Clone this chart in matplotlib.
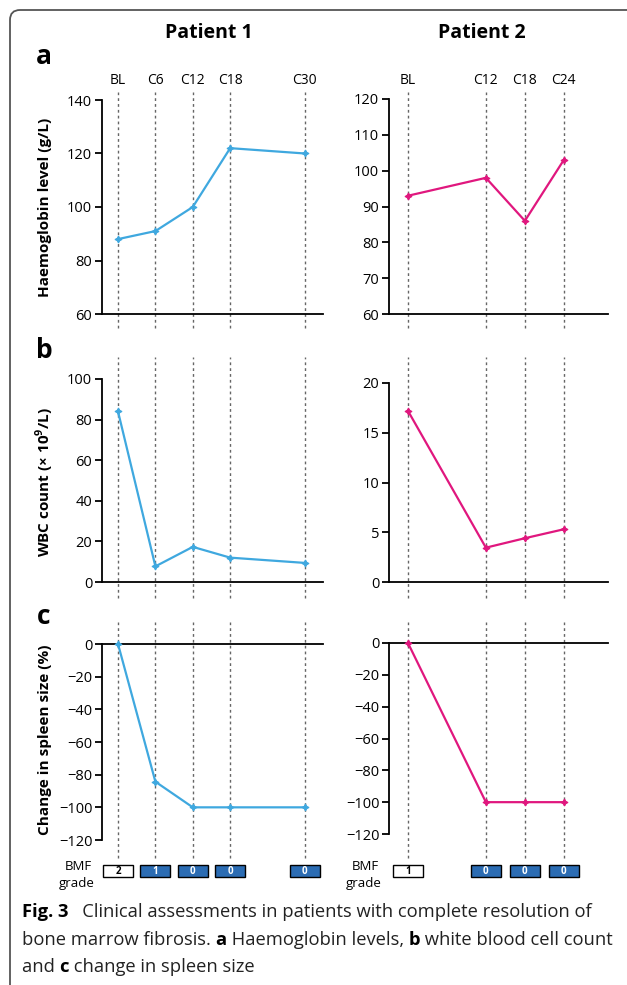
import matplotlib
matplotlib.use("Agg")
import matplotlib.pyplot as plt
from matplotlib.patches import FancyBboxPatch, Rectangle
from matplotlib.transforms import IdentityTransform, blended_transform_factory

plt.rcParams['font.family'] = ['Open Sans', 'DejaVu Sans']

# ---------------- data ----------------
p1_labels = ["BL", "C6", "C12", "C18", "C30"]
p1_months = [0, 6, 12, 18, 30]
p1_hb = [88, 91, 100, 122, 120]
p1_wbc = [84.0, 7.7, 17.3, 12.0, 9.4]
p1_spleen = [0, -84.3, -100, -100, -100]
p1_bmf = [2, 1, 0, 0, 0]

p2_labels = ["BL", "C12", "C18", "C24"]
p2_months = [0, 12, 18, 24]
p2_hb = [93, 98, 86, 103]
p2_wbc = [17.2, 3.45, 4.4, 5.3]
p2_spleen = [0, -100, -100, -100]
p2_bmf = [1, 0, 0, 0]

W, H = 627, 985
fig = plt.figure(figsize=(W / 100, H / 100), dpi=100)

BLUE = "#3fa8df"
PINK = "#e0177e"
BOXBLUE = "#2b6cb3"
DASH = "#666666"


def rect(left, top, right, bottom):
    return [left / W, 1 - bottom / H, (right - left) / W, (bottom - top) / H]


def ftxt(x, y, s, **kw):
    return fig.text(x / W, 1 - y / H, s, **kw)


# rounded frame
frame = FancyBboxPatch((10, -20), 700, H - 10 + 20, boxstyle="round,pad=0,rounding_size=10",
                       transform=IdentityTransform(), fill=False, edgecolor="#555555", linewidth=1.3)
fig.patches.append(frame)

patients = [
    dict(months=p1_months, labels=p1_labels, hb=p1_hb, wbc=p1_wbc, spleen=p1_spleen, bmf=p1_bmf,
         color=BLUE, xl=-2.57, xr=32.9, left=102, right=323,
         rows=[(100, 314), (379, 582), (644, 840)],
         ylims=[(60, 140), (0, 100), (-120, 0)],
         yticks=[range(60, 141, 20), range(0, 101, 20), range(-120, 1, 20)],
         bmf_x=78, title="Patient 1", tx=209),
    dict(months=p2_months, labels=p2_labels, hb=p2_hb, wbc=p2_wbc, spleen=p2_spleen, bmf=p2_bmf,
         color=PINK, xl=-2.92, xr=30.8, left=389, right=608,
         rows=[(99, 314), (383, 582), (643, 834)],
         ylims=[(60, 120), (0, 20), (-120, 0)],
         yticks=[range(60, 121, 10), range(0, 21, 5), range(-120, 1, 20)],
         bmf_x=365, title="Patient 2", tx=482),
]

dash_spans = [(92, 328), (357, 598), (622, 858)]
ylabels = ["Haemoglobin level (g/L)", "WBC count (× 10$^{\\mathregular{9}}$/L)", "Change in spleen size (%)"]
ylabel_y = [207, 482, 740]
panel_letters = [("a", 57), ("b", 350), ("c", 617)]

for pi, p in enumerate(patients):
    series = [p["hb"], p["wbc"], p["spleen"]]
    for r in range(3):
        top, bot = p["rows"][r]
        ax = fig.add_axes(rect(p["left"], top, p["right"], bot))
        ax.set_facecolor("none")
        ax.set_xlim(p["xl"], p["xr"])
        ax.set_ylim(*p["ylims"][r])
        ax.set_yticks(list(p["yticks"][r]))
        ax.set_xticks([])
        ax.spines["right"].set_visible(False)
        if r == 2:
            ax.spines["bottom"].set_visible(False)
        else:
            ax.spines["top"].set_visible(False)
        for s in ["left", "top", "bottom"]:
            ax.spines[s].set_linewidth(1.3)
            ax.spines[s].set_color("black")
        ax.tick_params(axis="y", length=5, width=1.3, labelsize=10.5, pad=2, colors="black")
        # dashed verticals, extended beyond the axes
        d0, d1 = dash_spans[r]
        y_lo = -(d1 - bot) / (bot - top)
        y_hi = (bot - d0) / (bot - top)
        bt = blended_transform_factory(ax.transData, ax.transAxes)
        for m in p["months"]:
            ax.plot([m, m], [y_lo, y_hi], transform=bt,
                    color=DASH, lw=1.0, ls=(0, (2, 2.2)), clip_on=False, zorder=1)
        ax.plot(p["months"], series[r], color=p["color"], lw=1.6, marker=(4, 1, 0),
                markersize=5, markeredgewidth=0.8, zorder=3, clip_on=False)
        if r == 0:
            for m, lab in zip(p["months"], p["labels"]):
                ax.text(m, 1 + (top - 80) / (bot - top), lab, transform=bt, ha="center",
                        va="center", fontsize=10)
        if r == 2:
            # BMF grade boxes
            for i, (m, g) in enumerate(zip(p["months"], p["bmf"])):
                xc = ax.transData.transform((m, 0))[0]
                fc = "white" if i == 0 else BOXBLUE
                rct = Rectangle((xc - 15, H - 877), 30, 12, transform=IdentityTransform(),
                                facecolor=fc, edgecolor="black", lw=1.0, clip_on=False)
                fig.patches.append(rct)
                fig.text(xc / W, 1 - 871.5 / H, str(g), ha="center", va="center", fontsize=7,
                         fontweight="bold", color="black" if fc == "white" else "white")
            ftxt(p["bmf_x"], 866, "BMF", ha="center", va="center", fontsize=9.5)
            ftxt(p["bmf_x"] - 1, 884, "grade", ha="center", va="center", fontsize=9.5)
        if pi == 0:
            ftxt(45, ylabel_y[r], ylabels[r], rotation=90, ha="center", va="center",
                 fontsize=11, fontweight="bold")
    ftxt(p["tx"], 33, p["title"], ha="center", va="center", fontsize=14, fontweight="bold")

for letter, yy in panel_letters:
    ftxt(44, yy, letter, ha="center", va="center", fontsize=19, fontweight="bold")

# caption with mixed weights
fig.canvas.draw()
renderer = fig.canvas.get_renderer()
cap_lines = [
    [("Fig. 3", "bold"), ("   Clinical assessments in patients with complete resolution of", "normal")],
    [("bone marrow fibrosis. ", "normal"), ("a", "bold"), (" Haemoglobin levels, ", "normal"),
     ("b", "bold"), (" white blood cell count", "normal")],
    [("and ", "normal"), ("c", "bold"), (" change in spleen size", "normal")],
]
cap_y = [912, 940, 967]
CAPFS = 13.2
for line, yy in zip(cap_lines, cap_y):
    x = 22
    for s, wgt in line:
        t = ftxt(x, yy, s, ha="left", va="center", fontsize=CAPFS, fontweight=wgt,
                 color="#222222" if wgt == "normal" else "black")
        ext = t.get_window_extent(renderer)
        x += ext.width

fig.savefig("out.png", dpi=100)
